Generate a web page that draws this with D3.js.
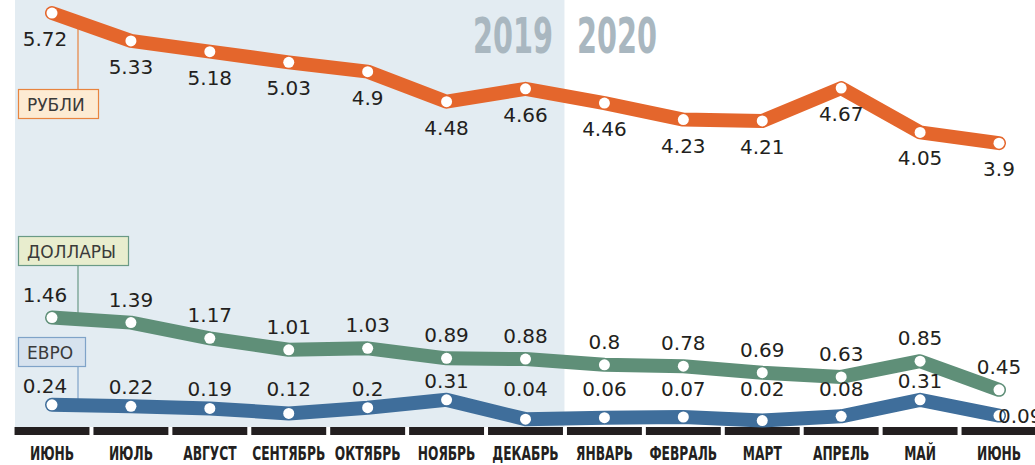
<!DOCTYPE html>
<html>
<head>
<meta charset="utf-8">
<script src="https://cdn.jsdelivr.net/npm/d3@7"></script>
<style>
  body { margin: 0; background: #fff; }
  svg { display: block; }
  .val { font-family: "DejaVu Sans", sans-serif; font-size: 20px; fill: #231f20; }
  .month { font-family: "Liberation Sans Narrow", "DejaVu Sans Condensed", sans-serif; font-weight: bold; font-size: 20px; fill: #231f20; }
  .year { font-family: "Liberation Sans Narrow", "DejaVu Sans Condensed", sans-serif; font-weight: bold; font-size: 50px; fill: #a9b7c0; }
  .legend { font-family: "DejaVu Sans", sans-serif; font-size: 17px; fill: #3a3a3a; }
</style>
</head>
<body>
<svg width="1035" height="465"></svg>
<script>
// months (June 2019 .. June 2020)
var months = ['ИЮНЬ', 'ИЮЛЬ', 'АВГУСТ', 'СЕНТЯБРЬ', 'ОКТЯБРЬ', 'НОЯБРЬ', 'ДЕКАБРЬ',
              'ЯНВАРЬ', 'ФЕВРАЛЬ', 'МАРТ', 'АПРЕЛЬ', 'МАЙ', 'ИЮНЬ'];
var rubles  = [5.72, 5.33, 5.18, 5.03, 4.9, 4.48, 4.66, 4.46, 4.23, 4.21, 4.67, 4.05, 3.9];
var dollars = [1.46, 1.39, 1.17, 1.01, 1.03, 0.89, 0.88, 0.8, 0.78, 0.69, 0.63, 0.85, 0.45];
var euros   = [0.24, 0.22, 0.19, 0.12, 0.2, 0.31, 0.04, 0.06, 0.07, 0.02, 0.08, 0.31, 0.09];
var years = ['2019', '2020'];

var svg = d3.select('svg');

var x = d3.scalePoint()
    .domain(d3.range(months.length))
    .range([52, 999]);
var step = x.step();

var y = d3.scaleLinear()
    .domain([0, 6])
    .range([422, -7]);

var split = x(6) + step / 2;

// shaded 2019 panel
svg.append('rect')
    .attr('x', 15)
    .attr('y', 0)
    .attr('width', split - 15 - 0.5)
    .attr('height', 427)
    .attr('fill', '#e3ecf2');

// year labels, squeezed to the reference width
svg.selectAll('.year')
    .data(years)
    .enter().append('text')
    .attr('class', 'year')
    .attr('text-anchor', function(d, i) { return i === 0 ? 'end' : 'start'; })
    .text(function(d) { return d; })
    .attr('transform', function(d, i) {
        var k = 80 / this.getComputedTextLength();
        return 'translate(' + [i === 0 ? split - 12 : split + 12, 53] + ') scale(' + k + ',1)';
    });

// month axis bars and labels
var axisG = svg.append('g');
axisG.selectAll('rect')
    .data(months)
    .enter().append('rect')
    .attr('x', function(d, i) { return x(i) - step / 2 + 2; })
    .attr('y', 427)
    .attr('width', step - 4)
    .attr('height', 8)
    .attr('fill', '#231f20');
axisG.selectAll('text')
    .data(months)
    .enter().append('text')
    .attr('class', 'month')
    .attr('text-anchor', 'middle')
    .attr('transform', function(d, i) { return 'translate(' + [x(i), 460] + ') scale(0.68,1)'; })
    .text(function(d) { return d; });

var series = [
    {name: 'РУБЛИ', values: rubles, color: '#e4662c', fill: '#fdebd3', stroke: '#e8843f',
     box: {y: 89, w: 80}, dy: 33},
    {name: 'ДОЛЛАРЫ', values: dollars, color: '#5f8f78', fill: '#e8edce', stroke: '#6a9a86',
     box: {y: 236, w: 110}, dy: -16},
    {name: 'ЕВРО', values: euros, color: '#3f6e9b', fill: '#d6e2ee', stroke: '#7fa3c8',
     box: {y: 337, w: 67}, dy: -12}
];

var line = d3.line()
    .x(function(d, i) { return x(i); })
    .y(function(d) { return y(d); });

// legend boxes with leader lines (behind the lines)
series.forEach(function(s) {
    var g = svg.append('g');
    var rub = s.name === 'РУБЛИ';
    g.append('line')
        .attr('x1', 78).attr('x2', 78)
        .attr('y1', rub ? s.box.y : s.box.y + 29)
        .attr('y2', rub ? y(s.values[0]) + 12 : y(s.values[0]) + 6)
        .attr('stroke', s.stroke)
        .attr('stroke-width', 1.2);
    g.append('rect')
        .attr('x', 18.5).attr('y', s.box.y + 0.5)
        .attr('width', s.box.w).attr('height', 29)
        .attr('fill', s.fill)
        .attr('stroke', s.stroke)
        .attr('stroke-width', 1.2);
    g.append('text').attr('class', 'legend')
        .attr('x', 27).attr('y', s.box.y + 22)
        .text(s.name);
});

// lines and markers
series.forEach(function(s) {
    svg.append('path')
        .datum(s.values)
        .attr('d', line)
        .attr('fill', 'none')
        .attr('stroke', s.color)
        .attr('stroke-width', 14)
        .attr('stroke-linejoin', 'round')
        .attr('stroke-linecap', 'round');

    svg.append('g').selectAll('circle')
        .data(s.values)
        .enter().append('circle')
        .attr('cx', function(d, i) { return x(i); })
        .attr('cy', function(d) { return y(d); })
        .attr('r', 5.5)
        .attr('fill', '#fff');
});

// value labels
series.forEach(function(s) {
    var last = s.values.length - 1;
    svg.append('g').selectAll('text')
        .data(s.values)
        .enter().append('text')
        .attr('class', 'val')
        .attr('text-anchor', function(d, i) {
            return (s.name === 'ЕВРО' && i === last) ? 'start' : 'middle';
        })
        .attr('x', function(d, i) {
            if (i === 0) return x(i) - 7;
            if (s.name === 'ЕВРО' && i === last) return x(i) - 1;
            return x(i);
        })
        .attr('y', function(d, i) {
            if (s.name === 'ЕВРО' && i === last) return y(d) + 7;
            if (s.name === 'ЕВРО') return Math.min(y(d) - 12, 396);
            return y(d) + s.dy;
        })
        .text(function(d) { return d; });
});
</script>
</body>
</html>
